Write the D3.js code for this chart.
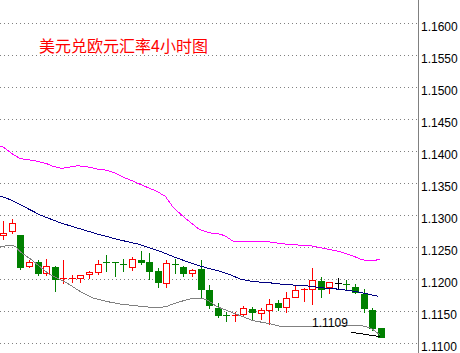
<!DOCTYPE html>
<html>
<head>
<meta charset="utf-8">
<style>
  html, body { margin: 0; padding: 0; background: #fff; }
  svg { display: block; }
</style>
<script src="https://cdn.jsdelivr.net/npm/d3@7"></script>
</head>
<body>
<div id="chart"></div>
<script>
// Title and axis ticks
const title = "美元兑欧元汇率4小时图";
const yTicks = [1.11, 1.115, 1.12, 1.125, 1.13, 1.135, 1.14, 1.145, 1.15, 1.155, 1.16];

// 4h candles
const opens  = [1.1269, 1.1275, 1.1268, 1.1220, 1.1227, 1.1209, 1.1219, 1.1200, 1.1201, 1.1202,
                1.1208, 1.1211, 1.1226, 1.1226, 1.1224, 1.1219, 1.1229, 1.1226, 1.1213, 1.1194,
                1.1224, 1.1219, 1.1209, 1.1215, 1.1183, 1.1154, 1.1144, 1.1143, 1.1145, 1.1153,
                1.1147, 1.1151, 1.1163, 1.1156, 1.1172, 1.1183, 1.1184, 1.1197, 1.1188, 1.1193,
                1.1192, 1.1188, 1.1177, 1.1152, 1.1123];
const highs  = [1.1290, 1.1294, 1.1268, 1.1230, 1.1229, 1.1232, 1.1221, 1.1229, 1.1207, 1.1206,
                1.1213, 1.1229, 1.1238, 1.1227, 1.1231, 1.1235, 1.1244, 1.1240, 1.1217, 1.1230,
                1.1231, 1.1221, 1.1216, 1.1229, 1.1190, 1.1163, 1.1148, 1.1148, 1.1158, 1.1157,
                1.1154, 1.1168, 1.1167, 1.1179, 1.1191, 1.1186, 1.1217, 1.1203, 1.1195, 1.1201,
                1.1198, 1.1192, 1.1184, 1.1155, 1.1124];
const lows   = [1.1263, 1.1272, 1.1215, 1.1218, 1.1207, 1.1207, 1.1181, 1.1194, 1.1196, 1.1196,
                1.1202, 1.1208, 1.1212, 1.1204, 1.1213, 1.1214, 1.1224, 1.1200, 1.1188, 1.1188,
                1.1209, 1.1204, 1.1204, 1.1170, 1.1154, 1.1140, 1.1134, 1.1134, 1.1144, 1.1138,
                1.1138, 1.1130, 1.1151, 1.1149, 1.1172, 1.1166, 1.1161, 1.1172, 1.1178, 1.1186,
                1.1183, 1.1178, 1.1149, 1.1121, 1.1109];
const closes = [1.1272, 1.1288, 1.1218, 1.1227, 1.1210, 1.1220, 1.1200, 1.1202, 1.1202, 1.1206,
                1.1211, 1.1224, 1.1225, 1.1225, 1.1223, 1.1231, 1.1227, 1.1213, 1.1195, 1.1225,
                1.1223, 1.1210, 1.1214, 1.1185, 1.1159, 1.1144, 1.1143, 1.1144, 1.1154, 1.1148,
                1.1151, 1.1161, 1.1157, 1.1170, 1.1183, 1.1184, 1.1199, 1.1185, 1.1195, 1.1193,
                1.1191, 1.1180, 1.1154, 1.1123, 1.1110];

// Bollinger bands as [candle index, price]
const upperBand = [[-0.4, 1.1408], [0, 1.1406], [1.2, 1.1394], [2, 1.1388], [3.1, 1.1386], [4, 1.1384],
  [5.1, 1.1380], [5.8, 1.1376], [6.8, 1.1373], [7.4, 1.1374], [8.7, 1.1377], [9.9, 1.1375],
  [10.9, 1.1372], [12, 1.1370], [13, 1.1366], [14, 1.1359], [15.1, 1.1353], [16.3, 1.1346],
  [17.9, 1.1337], [18.9, 1.1329], [19.8, 1.1312], [21.2, 1.1295], [22.9, 1.1277], [24.1, 1.1272],
  [25.3, 1.1270], [25.9, 1.1267], [26.8, 1.1259], [30.5, 1.1259], [32.5, 1.1255], [34.5, 1.1253],
  [35.4, 1.1253], [37.3, 1.1248], [39.2, 1.1243], [40.8, 1.1236], [41.8, 1.1230], [42.7, 1.1229],
  [43.3, 1.1229], [43.9, 1.1231]];
const middleBand = [[-0.4, 1.1330], [0.8, 1.1324], [2, 1.1316], [4.3, 1.1300], [6.6, 1.1288],
  [9.3, 1.1277], [11.3, 1.1269], [13.6, 1.1261], [15.9, 1.1254], [18.3, 1.1243], [20.2, 1.1233],
  [22.5, 1.1222], [24.1, 1.1216], [25.3, 1.1212], [26.4, 1.1207], [27.6, 1.1200], [29.1, 1.1196],
  [31.1, 1.1194], [33, 1.1191], [35, 1.1190], [37.3, 1.1186], [39.2, 1.1184], [40.8, 1.1181],
  [42.35, 1.1177], [43.7, 1.1173]];
const lowerBand = [[-0.4, 1.1250], [0.8, 1.1253], [1.4, 1.1251], [2, 1.1242], [3.1, 1.1232],
  [5.4, 1.1207], [7.4, 1.1194], [8.9, 1.1181], [10.5, 1.1170], [12, 1.1165], [13.6, 1.1161],
  [16.3, 1.1157], [17.9, 1.1155], [19, 1.1157], [20.2, 1.1163], [21.8, 1.1169], [22.9, 1.1170],
  [23.7, 1.1168], [24.9, 1.1157], [26.4, 1.1149], [29.1, 1.1135], [31.1, 1.1130], [32.6, 1.1125],
  [40.4, 1.1127], [41.8, 1.1127], [42.9, 1.1123], [43.9, 1.1113]];
const lowLine = [[40.5, 1.1117], [42.4, 1.1113], [43.9, 1.1110]];

const width = 460;
const height = 353;
const axisX = 418;

const svg = d3.select("#chart")
  .append("svg")
  .attr("width", width)
  .attr("height", height)
  .style("font-family", "'Liberation Sans', Arial, sans-serif");

const x = d3.scaleLinear().domain([0, 44]).range([3.3, 380.7]);
const y = d3.scaleLinear().domain([1.11, 1.16]).range([343, 23]);

svg.append("defs").append("clipPath").attr("id", "plot")
  .append("rect").attr("x", 0).attr("y", 0).attr("width", axisX).attr("height", height);

// dotted grid
svg.append("g")
  .selectAll("line")
  .data(yTicks)
  .join("line")
  .attr("x1", 0)
  .attr("x2", axisX)
  .attr("y1", (d) => Math.round(y(d)) + 0.5)
  .attr("y2", (d) => Math.round(y(d)) + 0.5)
  .attr("stroke", "#808080")
  .attr("stroke-dasharray", "1,3");

// price axis on the right
svg.append("line")
  .attr("x1", axisX + 0.5).attr("x2", axisX + 0.5)
  .attr("y1", 0).attr("y2", height)
  .attr("stroke", "#808080");

const axis = svg.append("g")
  .attr("transform", `translate(${axisX},0.5)`)
  .call(d3.axisRight(y).tickValues(yTicks).tickSize(0).tickPadding(3).tickFormat(d3.format(".4f")));
axis.select(".domain").remove();
axis.selectAll("text")
  .attr("dy", "0.62em")
  .attr("fill", "#000")
  .style("font-size", "12px")
  .style("font-family", "'Liberation Sans', Arial, sans-serif");

// title
svg.append("text")
  .attr("x", 39)
  .attr("y", 52)
  .attr("fill", "#ff0000")
  .style("font-family", "'Noto Sans CJK SC', sans-serif")
  .style("font-size", "16px")
  .text(title);

const plot = svg.append("g").attr("clip-path", "url(#plot)");

// candles
const candles = opens.map((o, i) => ({ i, o, h: highs[i], l: lows[i], c: closes[i] }));
const colorOf = (d) => (d.c > d.o ? "#ff0000" : d.c < d.o ? "#008000" : "#000000");

const g = plot.append("g")
  .selectAll("g")
  .data(candles)
  .join("g");

g.append("line")
  .attr("x1", (d) => Math.round(x(d.i)) + 0.5)
  .attr("x2", (d) => Math.round(x(d.i)) + 0.5)
  .attr("y1", (d) => Math.round(y(d.h)))
  .attr("y2", (d) => Math.round(y(d.l)) + 1)
  .attr("stroke", colorOf);

g.each(function (d) {
  const cx = Math.round(x(d.i));
  const top = Math.round(y(Math.max(d.o, d.c)));
  const bot = Math.round(y(Math.min(d.o, d.c)));
  const el = d3.select(this);
  if (bot - top <= 1) {
    // doji / cross
    el.append("line")
      .attr("x1", cx - 3).attr("x2", cx + 4)
      .attr("y1", top + 0.5).attr("y2", top + 0.5)
      .attr("stroke", colorOf(d));
  } else if (d.c > d.o) {
    el.append("rect")
      .attr("x", cx - 2.5).attr("y", top + 0.5)
      .attr("width", 6).attr("height", bot - top)
      .attr("fill", "#fff")
      .attr("stroke", "#ff0000");
  } else {
    el.append("rect")
      .attr("x", cx - 3).attr("y", top)
      .attr("width", 7).attr("height", bot - top + 1)
      .attr("fill", "#008000");
  }
});

// bands (aliased like the terminal's own drawing)
const line = d3.line().x((d) => x(d[0])).y((d) => y(d[1]));

plot.append("path").datum(lowerBand).attr("d", line)
  .attr("fill", "none").attr("stroke", "#808080").attr("shape-rendering", "crispEdges");
plot.append("path").datum(middleBand).attr("d", line)
  .attr("fill", "none").attr("stroke", "#000080").attr("shape-rendering", "crispEdges");
plot.append("path").datum(upperBand).attr("d", line)
  .attr("fill", "none").attr("stroke", "#ff00ff").attr("shape-rendering", "crispEdges");
plot.append("path").datum(lowLine).attr("d", line)
  .attr("fill", "none").attr("stroke", "#000").attr("shape-rendering", "crispEdges");

// low price label
svg.append("text")
  .attr("x", 312)
  .attr("y", 327)
  .attr("fill", "#000")
  .style("font-size", "12px")
  .text(d3.format(".4f")(d3.min(lows)));
</script>
</body>
</html>
